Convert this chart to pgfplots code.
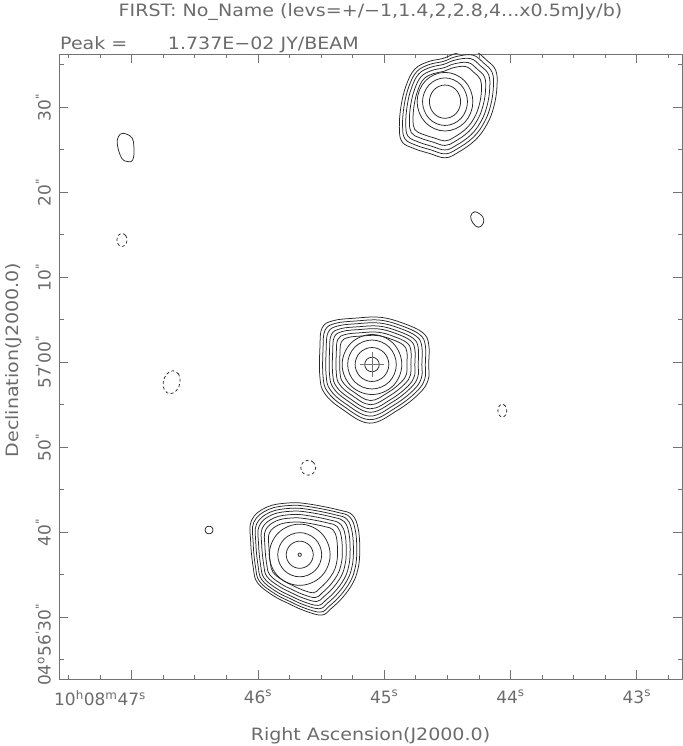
\documentclass[border=0pt]{standalone}
\usepackage{fontspec}
\setmainfont{DejaVu Sans}[FakeStretch=1.12]
\newfontfamily\tickfont{DejaVu Sans}
\usepackage{pgfplots}
\pgfplotsset{compat=1.18}
\newcommand\lbl{\fontsize{17bp}{20bp}\selectfont}
\newcommand\asec{\textsuperscript{\textquotedbl}}
\newcommand\amin{\textsuperscript{\textquotesingle}}
\definecolor{txt}{gray}{0.42}
\definecolor{ln}{gray}{0.15}
\pgfplotsset{
  ct/.style={draw=ln, line width=0.75bp, smooth cycle, tension=0.65, mark=none},
  neg/.style={ct, dash pattern=on 3bp off 2.5bp},
}
% x: offset west of 10h08m47s in arcsec (1 s = 14.94"), y: Dec offset from +04d56m00s in arcsec
\begin{document}
\begin{tikzpicture}[font=\lbl, text=txt]
\useasboundingbox (0,0) rectangle (683bp,746bp);
\begin{axis}[
  at={(59bp,67bp)}, anchor=south west,
  scale only axis, width=623bp, height=625bp,
  xmin=-8.60, xmax=65.11, ymin=22.74, ymax=96.27,
  axis line style={black!55, line width=0.8bp},
  tick align=inside, major tick length=9bp, minor tick length=4.5bp,
  every tick/.style={black!55, line width=0.8bp},
  xtick={0,14.94,29.88,44.82,59.76},
  xticklabels={\llap{10\textsuperscript{h}08\textsuperscript{m}}47\textsuperscript{s},
    46\textsuperscript{s},45\textsuperscript{s},44\textsuperscript{s},43\textsuperscript{s}},
  minor xtick={-7.47,-3.735,3.735,7.47,11.205,18.675,22.41,26.145,33.615,37.35,41.085,48.555,52.29,56.025,63.495},
  ytick={30,40,50,60,70,80,90},
  yticklabels={\llap{04\textsuperscript{o}56\amin}30\asec,
    40\asec,50\asec,57\amin 00\asec,10\asec,20\asec,30\asec},
  minor ytick={25,35,45,55,65,75,85,95},
  xticklabel style={anchor=north, inner sep=0pt, yshift=-11bp, text=txt, font=\tickfont\lbl},
  yticklabel style={rotate=90, anchor=south, inner sep=0pt, yshift=8bp, text=txt, font=\tickfont\lbl},
]
% --- central source (peak 17.37 mJy/beam)
\addplot[ct] coordinates {(35.14,59.74)(35.14,62.14)(34.43,63.49)(32.13,64.59)(29.43,65.29)(26.43,65.19)(23.83,64.89)(22.53,64.04)(22.27,61.74)(22.27,58.24)(22.83,56.34)(24.83,54.54)(28.13,52.84)(31.43,54.34)(34.03,56.34)(35.08,57.94)};
\addplot[ct] coordinates {(34.74,59.74)(34.74,62.00)(34.07,63.27)(31.91,64.30)(29.37,64.96)(26.55,64.86)(24.11,64.58)(22.88,63.78)(22.64,61.62)(22.64,58.33)(23.17,56.54)(25.05,54.85)(28.15,53.25)(31.25,54.66)(33.69,56.54)(34.68,58.05)};
\addplot[ct] coordinates {(34.33,59.74)(34.33,61.85)(33.71,63.04)(31.69,64.01)(29.31,64.62)(26.67,64.54)(24.38,64.27)(23.24,63.52)(23.01,61.50)(23.01,58.42)(23.50,56.75)(25.26,55.16)(28.17,53.67)(31.07,54.99)(33.36,56.75)(34.28,58.16)};
\addplot[ct] coordinates {(33.90,59.74)(33.90,61.70)(33.32,62.80)(31.45,63.69)(29.25,64.26)(26.80,64.18)(24.68,63.94)(23.62,63.24)(23.41,61.37)(23.41,58.52)(23.87,56.97)(25.50,55.50)(28.19,54.12)(30.88,55.34)(32.99,56.97)(33.85,58.27)};
\addplot[ct] coordinates {(33.50,59.74)(33.50,61.55)(32.96,62.57)(31.22,63.40)(29.19,63.93)(26.92,63.85)(24.96,63.63)(23.98,62.99)(23.78,61.25)(23.78,58.61)(24.20,57.17)(25.71,55.81)(28.20,54.53)(30.70,55.66)(32.66,57.17)(33.45,58.38)};
\addplot[ct] coordinates {(33.03,59.74)(33.03,61.38)(32.54,62.31)(30.96,63.06)(29.12,63.54)(27.06,63.47)(25.28,63.27)(24.39,62.69)(24.21,61.11)(24.21,58.71)(24.59,57.41)(25.96,56.18)(28.22,55.01)(30.49,56.04)(32.27,57.41)(32.99,58.51)};
\addplot[ct] coordinates {(32.56,59.74)(32.56,61.22)(32.12,62.05)(30.71,62.72)(29.05,63.15)(27.20,63.09)(25.60,62.91)(24.80,62.38)(24.64,60.97)(24.64,58.82)(24.99,57.65)(26.22,56.54)(28.25,55.50)(30.28,56.42)(31.87,57.65)(32.52,58.63)};
\addplot[ct] coordinates {(31.96,59.74)(30.93,62.24)(28.43,63.27)(25.93,62.24)(24.90,59.74)(25.93,57.24)(28.43,56.21)(30.93,57.24)};
\addplot[ct] coordinates {(31.31,59.74)(30.47,61.78)(28.43,62.62)(26.39,61.78)(25.55,59.74)(26.39,57.70)(28.43,56.86)(30.47,57.70)};
\addplot[ct] coordinates {(30.43,59.74)(29.84,61.15)(28.43,61.74)(27.02,61.15)(26.43,59.74)(27.02,58.33)(28.43,57.74)(29.84,58.33)};
\addplot[ct] coordinates {(29.29,59.74)(29.04,60.35)(28.43,60.60)(27.82,60.35)(27.57,59.74)(27.82,59.13)(28.43,58.88)(29.04,59.13)};
\addplot[only marks, mark=+, mark size=12.5, mark options={black!55, line width=0.8bp}] coordinates {(28.43,59.74)};
% --- northern source
\addplot[ct] coordinates {(40.57,96.56)(41.97,95.56)(43.07,94.36)(43.22,92.46)(42.87,90.16)(42.07,88.06)(40.67,86.16)(38.57,84.66)(37.07,84.06)(35.27,84.56)(33.37,85.16)(31.97,85.96)(31.67,87.66)(31.87,90.16)(32.47,92.56)(33.47,94.46)(35.07,95.36)(36.87,95.76)(38.47,96.36)};
\addplot[ct] coordinates {(40.33,96.15)(41.63,95.22)(42.65,94.10)(42.79,92.33)(42.46,90.19)(41.72,88.24)(40.42,86.47)(38.47,85.08)(37.07,84.52)(35.40,84.99)(33.63,85.54)(32.33,86.29)(32.05,87.87)(32.23,90.19)(32.79,92.43)(33.72,94.19)(35.21,95.03)(36.88,95.40)(38.37,95.96)};
\addplot[ct] coordinates {(40.08,95.73)(41.28,94.87)(42.23,93.84)(42.36,92.21)(42.06,90.23)(41.37,88.42)(40.17,86.79)(38.36,85.50)(37.07,84.98)(35.52,85.41)(33.89,85.93)(32.68,86.62)(32.43,88.08)(32.60,90.23)(33.11,92.29)(33.97,93.93)(35.35,94.70)(36.90,95.05)(38.27,95.56)};
\addplot[ct] coordinates {(39.80,95.26)(40.89,94.48)(41.75,93.55)(41.87,92.06)(41.59,90.27)(40.97,88.63)(39.88,87.15)(38.24,85.98)(37.07,85.51)(35.67,85.90)(34.18,86.37)(33.09,86.99)(32.86,88.32)(33.01,90.27)(33.48,92.14)(34.26,93.62)(35.51,94.33)(36.91,94.64)(38.16,95.11)};
\addplot[ct] coordinates {(39.52,94.79)(40.50,94.09)(41.27,93.25)(41.38,91.92)(41.13,90.31)(40.57,88.84)(39.59,87.51)(38.12,86.46)(37.07,86.04)(35.81,86.39)(34.48,86.81)(33.50,87.37)(33.29,88.56)(33.43,90.31)(33.85,91.99)(34.55,93.32)(35.67,93.95)(36.93,94.23)(38.05,94.65)};
\addplot[ct] coordinates {(40.37,90.66)(39.40,93.10)(37.07,94.11)(34.74,93.10)(33.77,90.66)(34.74,88.22)(37.07,87.21)(39.40,88.22)};
\addplot[ct] coordinates {(39.73,90.66)(38.95,92.64)(37.07,93.46)(35.19,92.64)(34.41,90.66)(35.19,88.68)(37.07,87.86)(38.95,88.68)};
\addplot[ct] coordinates {(38.92,90.66)(38.38,92.05)(37.07,92.62)(35.76,92.05)(35.22,90.66)(35.76,89.27)(37.07,88.70)(38.38,89.27)};
% --- southern source
\addplot[ct] coordinates {(26.98,37.46)(26.83,40.26)(26.13,42.01)(24.58,42.61)(21.08,43.31)(18.68,43.46)(15.98,42.96)(14.18,41.41)(14.08,38.86)(14.38,35.86)(14.88,34.06)(16.73,32.56)(18.68,31.56)(20.48,30.76)(22.48,30.26)(23.58,31.01)(24.98,32.36)(26.13,33.96)(26.73,35.51)};
\addplot[ct] coordinates {(26.63,37.46)(26.48,40.12)(25.82,41.78)(24.35,42.35)(21.02,43.01)(18.74,43.16)(16.17,42.68)(14.46,41.21)(14.37,38.79)(14.65,35.93)(15.13,34.22)(16.89,32.80)(18.74,31.85)(20.45,31.09)(22.35,30.61)(23.40,31.33)(24.73,32.61)(25.82,34.13)(26.39,35.60)};
\addplot[ct] coordinates {(26.23,37.45)(26.10,39.96)(25.47,41.52)(24.09,42.06)(20.95,42.69)(18.81,42.82)(16.39,42.37)(14.78,40.98)(14.69,38.70)(14.96,36.02)(15.40,34.41)(17.06,33.06)(18.81,32.17)(20.42,31.45)(22.21,31.01)(23.19,31.68)(24.44,32.88)(25.47,34.32)(26.01,35.70)};
\addplot[ct] coordinates {(25.84,37.44)(25.72,39.80)(25.13,41.27)(23.83,41.77)(20.89,42.36)(18.87,42.48)(16.60,42.06)(15.09,40.76)(15.01,38.62)(15.26,36.10)(15.68,34.59)(17.23,33.33)(18.87,32.49)(20.38,31.82)(22.06,31.40)(22.99,32.03)(24.16,33.16)(25.13,34.50)(25.63,35.81)};
\addplot[ct] coordinates {(25.38,37.44)(25.27,39.61)(24.72,40.96)(23.52,41.43)(20.81,41.97)(18.95,42.09)(16.86,41.70)(15.46,40.50)(15.38,38.52)(15.62,36.20)(16.00,34.80)(17.44,33.64)(18.95,32.86)(20.35,32.24)(21.90,31.86)(22.75,32.44)(23.83,33.48)(24.72,34.72)(25.19,35.93)};
\addplot[ct] coordinates {(24.92,37.43)(24.81,39.42)(24.32,40.66)(23.22,41.09)(20.73,41.58)(19.03,41.69)(17.11,41.34)(15.83,40.24)(15.76,38.43)(15.97,36.29)(16.33,35.02)(17.64,33.95)(19.03,33.24)(20.31,32.67)(21.73,32.32)(22.51,32.85)(23.50,33.81)(24.32,34.95)(24.74,36.05)};
\addplot[ct] coordinates {(24.35,37.42)(24.26,39.19)(23.82,40.29)(22.84,40.67)(20.64,41.11)(19.12,41.20)(17.42,40.89)(16.29,39.91)(16.23,38.31)(16.41,36.41)(16.73,35.28)(17.90,34.34)(19.12,33.71)(20.26,33.20)(21.52,32.89)(22.21,33.36)(23.09,34.21)(23.82,35.22)(24.20,36.19)};
\addplot[ct] coordinates {(23.48,37.36)(22.43,39.91)(19.88,40.96)(17.33,39.91)(16.28,37.36)(17.33,34.81)(19.88,33.76)(22.43,34.81)};
\addplot[ct] coordinates {(22.48,37.36)(21.72,39.20)(19.88,39.96)(18.04,39.20)(17.28,37.36)(18.04,35.52)(19.88,34.76)(21.72,35.52)};
\addplot[ct] coordinates {(21.48,37.36)(21.01,38.49)(19.88,38.96)(18.75,38.49)(18.28,37.36)(18.75,36.23)(19.88,35.76)(21.01,36.23)};
\addplot[ct] coordinates {(20.08,37.36)(20.02,37.50)(19.88,37.56)(19.74,37.50)(19.68,37.36)(19.74,37.22)(19.88,37.16)(20.02,37.22)};
% --- faint positive islands
\addplot[ct] coordinates {(-0.99,86.94)(0.07,86.35)(0.27,84.78)(0.12,83.80)(-0.40,83.60)(-1.18,84.00)(-1.69,85.57)(-1.58,86.54)};
\addplot[ct] coordinates {(40.62,77.71)(41.53,77.13)(41.60,76.35)(41.01,75.88)(40.35,76.42)(40.11,77.21)};
\addplot[ct] coordinates {(9.62,40.27)(9.39,40.66)(8.91,40.66)(8.68,40.27)(8.91,39.88)(9.39,39.88)};
% --- negative contours
\addplot[neg] coordinates {(-0.55,74.39)(-0.73,74.93)(-1.15,75.15)(-1.57,74.93)(-1.75,74.39)(-1.57,73.85)(-1.15,73.63)(-0.73,73.85)};
\addplot[neg] coordinates {(5.73,57.65)(5.56,58.60)(4.88,59.00)(4.14,58.60)(3.73,57.65)(3.90,56.70)(4.58,56.30)(5.32,56.70)};
\addplot[neg] coordinates {(21.77,47.60)(21.51,48.22)(20.89,48.48)(20.27,48.22)(20.01,47.60)(20.27,46.98)(20.89,46.72)(21.51,46.98)};
\addplot[neg] coordinates {(44.38,54.31)(44.22,54.84)(43.85,55.06)(43.48,54.84)(43.32,54.31)(43.48,53.78)(43.85,53.56)(44.22,53.78)};
\end{axis}
\node[anchor=base] at (370.5bp,729.3bp) {FIRST: No\_Name (levs=+/−1,1.4,2,2.8,4...x0.5mJy/b)};
\node[anchor=base west, inner sep=0pt] at (60bp,696.7bp) {Peak =};
\node[anchor=base west, inner sep=0pt] at (167.7bp,696.7bp) {1.737E−02 JY/BEAM};
\node[anchor=base] at (370.5bp,6bp) {Right Ascension(J2000.0)};
\node[anchor=base, rotate=90] at (18bp,386bp) {Declination(J2000.0)};
\end{tikzpicture}
\end{document}
